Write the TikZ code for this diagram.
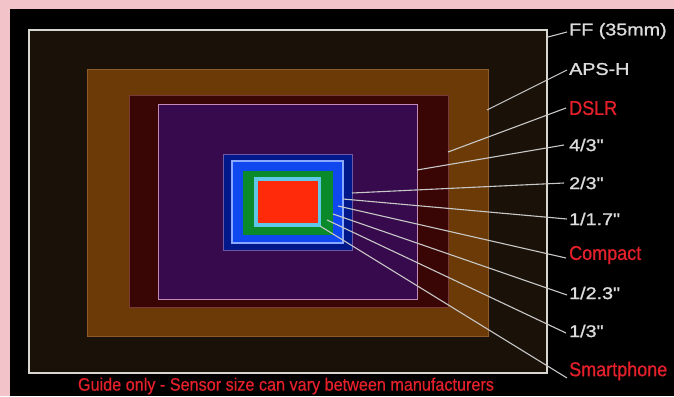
\documentclass[tikz,border=0pt]{standalone}
\usepackage{fontspec}
\setmainfont{Liberation Sans}
\newfontfamily\greyfont[FakeStretch=1.16,FakeBold=1.2]{Liberation Sans}
\newfontfamily\redfont[FakeStretch=0.9,FakeBold=0.8]{Liberation Sans}
\newfontfamily\capfont[FakeStretch=0.9,FakeBold=0.5]{Liberation Sans}
\definecolor{pinkbg}{HTML}{F2C4C9}
\definecolor{fffill}{HTML}{1A1209}
\definecolor{ffline}{HTML}{D8D6D0}
\definecolor{apshfill}{HTML}{6B3A06}
\definecolor{apshline}{HTML}{8C5C2C}
\definecolor{dslrfill}{HTML}{3A0505}
\definecolor{dslrline}{HTML}{7A3A3A}
\definecolor{ftfill}{HTML}{360A4C}
\definecolor{ftline}{HTML}{C48BB8}
\definecolor{navyfill}{HTML}{00188A}
\definecolor{navyline}{HTML}{6A5AA8}
\definecolor{bluefill}{HTML}{1048F0}
\definecolor{blueline}{HTML}{8AA8FF}
\definecolor{greenfill}{HTML}{0A8A2A}
\definecolor{cyanfill}{HTML}{5FC8E8}
\definecolor{redfill}{HTML}{FF2A0A}
\definecolor{labgrey}{HTML}{DCDCDC}
\definecolor{labred}{HTML}{E4202A}
\definecolor{leader}{HTML}{C8C8C8}
\tikzset{
  greylab/.style={anchor=west, inner sep=1pt, text=labgrey, font=\greyfont\fontsize{17}{17}\selectfont},
  redlab/.style={anchor=west, inner sep=1pt, text=labred, font=\redfont\fontsize{20}{20}\selectfont},
  leaderline/.style={draw=leader, line width=1.1pt},
}
\begin{document}
\begin{tikzpicture}[x=1pt,y=-1pt]
\useasboundingbox (0,0) rectangle (674,396);
\fill[pinkbg] (0,0) rectangle (674,396);
\fill[black] (10,9) rectangle (674,396);
% sensor rectangles
\filldraw[fill=fffill, draw=ffline, line width=2pt] (29,30) rectangle (547,373);
\filldraw[fill=apshfill, draw=apshline, line width=1pt] (87,69) rectangle (488,336);
\filldraw[fill=dslrfill, draw=dslrline, line width=1pt] (129,95) rectangle (448,307);
\filldraw[fill=ftfill, draw=ftline, line width=1pt] (158,104) rectangle (417,299);
\filldraw[fill=navyfill, draw=navyline, line width=1pt] (223,154) rectangle (352,250);
\filldraw[fill=bluefill, draw=blueline, line width=1.5pt] (232,161) rectangle (343,243);
\fill[greenfill] (243,171) rectangle (333,235);
\fill[cyanfill] (254,177) rectangle (321,227);
\fill[redfill] (258,181) rectangle (318,223);
% leader end points
\coordinate (eFF) at (548,37);
\coordinate (eAPSH) at (487,110);
\coordinate (eDSLR) at (448,152);
\coordinate (eFT) at (417,170);
\coordinate (eTT) at (352,193);
\coordinate (eOS) at (343,199);
\coordinate (eComp) at (338,206);
\coordinate (eOT) at (333,214);
\coordinate (eOTh) at (327,220);
\coordinate (eSmart) at (320,226);
% labels
\node[greylab] (lFF) at (568,31) {FF (35mm)};
\node[greylab] (lAPSH) at (568,69) {APS-H};
\node[redlab] (lDSLR) at (568,108) {DSLR};
\node[greylab] (lFT) at (568,145) {4/3"};
\node[greylab] (lTT) at (568,183) {2/3"};
\node[greylab] (lOS) at (568,219) {1/1.7"};
\node[redlab] (lComp) at (568,255) {Compact};
\node[greylab] (lOT) at (568,293) {1/2.3"};
\node[greylab] (lOTh) at (568,331) {1/3"};
\node[redlab] (lSmart) at (568,371) {Smartphone};
% leaders
\draw[leaderline] ([xshift=-1pt,yshift=-1pt]lFF.west) -- (eFF);
\draw[leaderline] ([xshift=-1pt,yshift=-1pt]lAPSH.west) -- (eAPSH);
\draw[leaderline] ([xshift=-2pt]lDSLR.west) -- (eDSLR);
\draw[leaderline] ([xshift=-4pt]lFT.west) -- (eFT);
\draw[leaderline] ([xshift=-4pt]lTT.west) -- (eTT);
\draw[leaderline] ([xshift=-1pt]lOS.west) -- (eOS);
\draw[leaderline] ([xshift=-2pt,yshift=-3pt]lComp.west) -- (eComp);
\draw[leaderline] ([xshift=-1pt,yshift=-2pt]lOT.west) -- (eOT);
\draw[leaderline] ([xshift=-2pt,yshift=-2pt]lOTh.west) -- (eOTh);
\draw[leaderline] ([xshift=-1pt,yshift=-7pt]lSmart.west) -- (eSmart);
% caption
\node[text=labred, font=\capfont\fontsize{18}{18}\selectfont, inner sep=0pt] (cap) at (286,386) {Guide only - Sensor size can vary between manufacturers};
\end{tikzpicture}
\end{document}
